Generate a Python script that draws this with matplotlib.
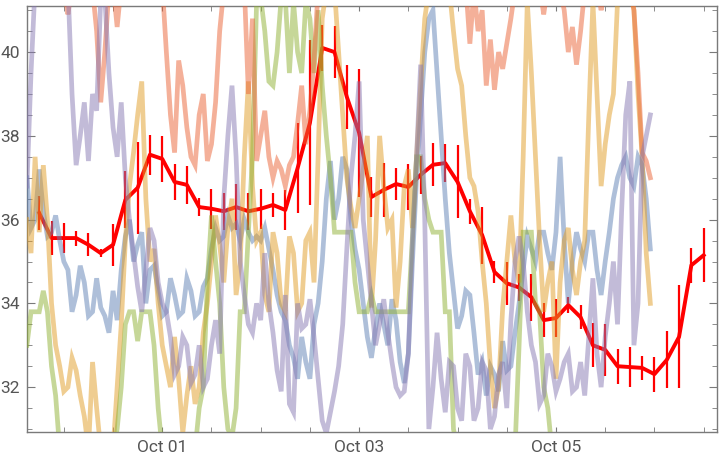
import pandas as pd
import matplotlib
matplotlib.use('Agg')
import matplotlib.pyplot as plt
import matplotlib.dates as mdates
from matplotlib.ticker import MultipleLocator

plt.rcParams['font.family'] = ['Roboto', 'DejaVu Sans']

# background sensor traces, hourly from Sep 29 15:00
BG_START = '2023-09-29 15:00'
blue = [37.0, 35.8, 36.0, 37.2, 36.2, 35.6, 35.7, 36.1, 35.5, 35.0,
        34.8, 33.8, 34.2, 34.9, 34.5, 33.7, 33.8, 34.6, 33.9, 33.7,
        33.3, 34.3, 33.6, 34.8, 35.6, 36.0, 35.0, 35.4, 35.7, 34.0,
        34.8, 34.9, 34.3, 33.7, 33.8, 34.6, 34.2, 33.7, 33.8, 34.6,
        34.3, 33.7, 33.8, 34.4, 34.6, 35.3, 35.8, 35.5, 35.6, 36.1,
        35.8, 35.9, 35.5, 36.0, 35.7, 35.5, 35.6, 35.5, 35.8, 35.3,
        34.8, 34.2, 33.8, 33.6, 33.0, 32.7, 32.2, 33.2, 32.6, 32.2,
        33.5, 34.0, 35.0, 36.5, 37.4, 36.0, 36.5, 37.5, 37.2, 36.0,
        35.3, 34.8, 34.0, 33.2, 32.7, 33.4, 34.0, 33.5, 33.0, 34.1,
        33.6, 32.6, 32.1, 32.8, 35.0, 37.0, 38.5, 40.0, 40.8, 41.0,
        39.5, 38.0, 36.5, 35.2, 34.3, 33.4, 33.7, 34.3, 34.2, 33.3,
        32.3, 32.6, 31.8, 32.5, 32.3, 31.9, 33.1, 32.4, 32.5, 33.3,
        34.0, 34.8, 35.6, 35.3, 35.0, 35.7, 35.7, 35.2, 34.8, 35.7,
        37.5, 35.5, 34.0, 35.0, 35.7, 35.3, 35.0, 35.7, 35.7, 34.8,
        34.2, 35.0, 35.7, 36.5, 37.0, 37.3, 37.5, 37.0, 36.8, 37.5,
        37.3, 36.5, 35.3]
yellow = [36.0, 35.2, 37.5, 35.7, 37.3, 36.0, 34.0, 33.0, 32.5, 31.9,
          32.0, 32.7, 32.4, 31.8, 31.3, 30.5, 32.6, 31.5, 30.5, 30.5,
          30.5, 30.5, 32.0, 33.5, 35.5, 36.8, 37.6, 38.5, 39.3, 36.5,
          35.0, 35.3, 34.0, 33.0, 32.5, 32.0, 33.2, 32.2, 30.9, 31.8,
          32.5, 31.6, 32.0, 33.3, 34.0, 35.0, 36.1, 35.4, 34.5, 35.8,
          36.5, 34.2, 35.0, 37.5, 39.3, 36.8, 35.5, 35.7, 34.2, 33.8,
          35.7, 35.2, 34.0, 33.8, 35.6, 35.2, 33.8, 34.0, 35.5, 35.7,
          34.5, 37.5, 40.8, 41.5, 41.3, 41.5, 40.0, 38.5, 37.0, 36.3,
          35.8, 36.5, 37.2, 38.0, 33.9, 35.5, 38.0, 36.8, 35.8, 36.0,
          33.9, 35.0, 36.8, 37.2, 35.8, 37.5, 39.2, 40.8, 41.5, 41.5,
          41.5, 41.5, 41.5, 41.5, 40.5, 39.6, 39.2, 38.0, 37.0, 36.8,
          36.2, 35.0, 34.0, 32.5, 31.5, 32.0, 33.9, 35.0, 36.1, 35.0,
          34.5, 37.5, 41.2, 39.5, 37.5, 35.5, 33.8, 34.5, 35.0, 32.2,
          34.5, 35.5, 35.8, 34.8, 34.2, 35.0, 35.5, 38.5, 41.2, 39.0,
          36.8, 37.8, 38.5, 39.0, 41.2, 41.5, 41.5, 41.5, 41.0, 39.0,
          37.5, 35.2, 34.0]
green = [33.0, 33.8, 33.8, 33.8, 34.3, 33.8, 32.5, 31.8, 30.5, 30.5,
         30.5, 30.5, 30.5, 30.5, 30.5, 30.5, 30.5, 30.5, 30.5, 30.5,
         30.5, 30.5, 31.0, 32.0, 33.5, 33.8, 33.8, 33.1, 33.8, 33.8,
         33.8, 33.0, 31.5, 30.5, 30.5, 30.5, 30.5, 30.5, 30.5, 30.5,
         30.5, 30.5, 31.5, 32.0, 34.5, 36.1, 35.0, 34.0, 32.0, 31.0,
         30.8, 31.5, 33.8, 33.8, 35.7, 37.5, 41.2, 41.3, 40.5, 39.3,
         39.2, 40.0, 41.3, 41.3, 39.5, 41.2, 40.0, 39.5, 41.2, 40.8,
         39.5, 41.0, 39.2, 38.0, 37.0, 35.7, 35.7, 35.7, 35.7, 35.7,
         34.5, 33.8, 33.8, 33.8, 34.2, 33.8, 33.8, 33.8, 33.8, 33.8,
         33.8, 33.8, 33.8, 33.8, 35.6, 37.5, 37.5, 36.5, 36.0, 35.7,
         35.7, 35.7, 33.8, 33.8, 31.0, 30.5, 30.5, 30.5, 30.5, 30.5,
         30.5, 30.5, 30.5, 30.5, 30.5, 30.5, 30.5, 30.5, 30.5, 30.5,
         33.0, 35.7, 35.7, 35.7, 34.0, 33.8, 32.0, 31.5, 30.5]
salmon = [41.6, 41.6, 41.6, 41.6, 41.6, 41.6, 41.6, 41.6, 41.6, 41.6,
          40.9, 41.6, 41.5, 41.6, 41.6, 41.6, 41.5, 40.5, 38.8, 40.0,
          41.5, 41.6, 40.6, 41.6, 41.5, 41.6, 41.6, 41.6, 41.6, 41.6,
          41.6, 41.6, 41.6, 41.6, 40.0, 38.5, 37.6, 39.8, 39.2, 38.2,
          37.5, 37.3, 38.5, 39.0, 37.4, 37.8, 38.8, 40.5, 41.5, 41.6,
          41.5, 41.6, 41.5, 41.6, 39.0, 40.8, 37.4, 38.0, 38.6, 37.5,
          37.0, 37.4, 37.2, 36.8, 37.3, 37.5, 38.3, 39.2, 37.8, 38.6,
          39.8, 41.5, 41.5, 41.6, 41.6, 41.6, 41.6, 41.6, 41.6, 41.6,
          41.6, 41.6, 41.6, 41.6, 41.6, 41.6, 41.6, 41.6, 41.6, 41.6,
          41.6, 41.6, 41.6, 41.6, 41.6, 41.6, 41.6, 41.6, 41.6, 41.6,
          41.6, 41.6, 41.6, 41.6, 41.6, 41.6, 41.6, 41.6, 40.2, 41.5,
          40.5, 41.0, 39.2, 40.3, 39.1, 40.0, 39.6, 40.2, 40.8, 41.5,
          41.5, 41.6, 41.5, 41.6, 41.5, 41.6, 40.9, 41.6, 41.5, 41.6,
          41.5, 41.0, 40.0, 40.6, 39.7, 40.5, 41.5, 41.6, 41.5, 41.6,
          41.0, 41.6, 41.5, 41.6, 41.5, 41.6, 41.5, 41.6, 41.0, 39.5,
          37.6, 37.4, 37.0]
purple = [36.8, 39.5, 41.6, 41.6, 41.6, 41.6, 41.6, 41.6, 41.6, 41.6,
          41.6, 39.0, 37.3, 38.0, 38.8, 37.4, 39.0, 38.6, 41.3, 41.3,
          39.5, 38.2, 37.5, 38.8, 37.0, 36.0, 35.2, 34.4, 33.8, 34.8,
          35.8, 35.5, 34.5, 34.0, 33.8, 33.2, 32.3, 32.5, 33.2, 33.0,
          32.1, 32.3, 33.0, 32.0, 32.2, 33.0, 33.6, 32.8, 36.5, 38.0,
          39.2, 37.5, 35.0, 34.2, 33.5, 33.3, 34.0, 33.6, 35.2, 34.0,
          33.3, 32.4, 31.9, 34.2, 31.6, 31.4, 34.0, 33.4, 33.5, 34.1,
          33.2, 32.2, 31.2, 30.9, 31.4, 31.9, 32.5, 33.5, 35.3, 37.0,
          38.0, 39.3, 36.0, 35.0, 34.0, 33.0, 33.5, 34.1, 33.3, 32.6,
          32.0, 31.8, 31.9, 32.8, 35.5, 37.5, 39.7, 36.0, 31.0, 32.0,
          33.3, 32.2, 31.4, 32.6, 32.5, 31.5, 31.2, 32.8, 32.5, 31.2,
          31.5, 32.6, 32.4, 31.0, 31.3, 32.3, 32.6, 31.5, 33.6, 35.0,
          35.6, 35.0, 33.8, 33.0, 32.6, 31.6, 31.8, 32.8, 32.5, 31.9,
          32.2, 32.6, 32.8, 31.9, 32.0, 32.6, 31.8, 33.2, 34.6, 32.8,
          32.0, 33.2, 34.0, 35.0, 33.5, 36.2, 38.5, 39.3, 33.0, 34.0,
          37.5, 38.0, 38.5]

# 3-hourly mean with error bars, from Sep 29 18:00
MEAN_START = '2023-09-29 18:00'
mean = [36.16, 35.56, 35.56, 35.56, 35.4, 35.2, 35.4, 36.47, 36.76, 37.55,
        37.45, 36.9, 36.83, 36.3, 36.26, 36.2, 36.3, 36.2, 36.26, 36.35,
        36.23, 37.23, 38.31, 40.1, 40.0, 38.93, 38.07, 36.54, 36.71, 36.85,
        36.78, 37.07, 37.31, 37.35, 36.9, 36.2, 35.63, 34.75, 34.48, 34.38,
        34.15, 33.6, 33.65, 33.96, 33.67, 33.0, 32.89, 32.5, 32.48, 32.46,
        32.31, 32.65, 33.2, 34.91, 35.15]
err = [0.4, 0.4, 0.36, 0.18, 0.28, 0.1, 0.5, 0.68, 1.1, 0.48,
       0.55, 0.42, 0.45, 0.22, 0.48, 0.44, 0.54, 0.44, 0.48, 0.28,
       0.48, 1.07, 1.97, 0.55, 0.63, 0.76, 1.53, 0.48, 0.64, 0.38,
       0.54, 0.45, 0.51, 0.46, 0.87, 0.3, 0.68, 0.26, 0.52, 0.32,
       0.56, 0.4, 0.46, 0.2, 0.28, 0.52, 0.62, 0.42, 0.48, 0.28,
       0.42, 0.68, 1.23, 0.42, 0.64]

fig = plt.figure(figsize=(7.2, 4.63), dpi=100)
ax = fig.add_axes([0.037, 0.067, 0.959, 0.92])

# red mean line underneath the translucent traces
t_mean = pd.date_range(MEAN_START, periods=len(mean), freq='3h')
ax.errorbar(t_mean, mean, yerr=err, color='#ff0000', lw=2.8, elinewidth=1.6,
            capsize=0, zorder=2)

traces = [(blue, '#5E81B5'), (yellow, '#E19C24'), (green, '#8FB032'),
          (salmon, '#EB6235'), (purple, '#8778B3')]
for vals, col in traces:
    t = pd.date_range(BG_START, periods=len(vals), freq='1h')
    ax.plot(t, vals, color=col, lw=3.4, alpha=0.5, zorder=3,
            solid_joinstyle='miter')

ax.set_xlim(pd.Timestamp('2023-09-29 14:56'), pd.Timestamp('2023-10-06 15:17'))
ax.set_ylim(30.93, 41.1)

ax.xaxis.set_major_locator(mdates.DayLocator(bymonthday=[1, 3, 5]))
ax.xaxis.set_major_formatter(mdates.DateFormatter('%b %d'))
ax.xaxis.set_minor_locator(mdates.HourLocator(byhour=[0, 12]))
ax.yaxis.set_major_locator(MultipleLocator(2))
ax.yaxis.set_minor_locator(MultipleLocator(0.5))

for s in ax.spines.values():
    s.set_color('#7a7a7a')
    s.set_linewidth(1.0)
ax.tick_params(which='both', direction='in', top=True, right=True,
               color='#7a7a7a', labelcolor='#555555', labelsize=12.5)
ax.tick_params(axis='x', which='both', length=3.8, pad=6)
ax.tick_params(axis='y', which='major', length=5.5, pad=5)
ax.tick_params(axis='y', which='minor', length=3.5)

fig.savefig('out.png', dpi=100)
plt.close(fig)
